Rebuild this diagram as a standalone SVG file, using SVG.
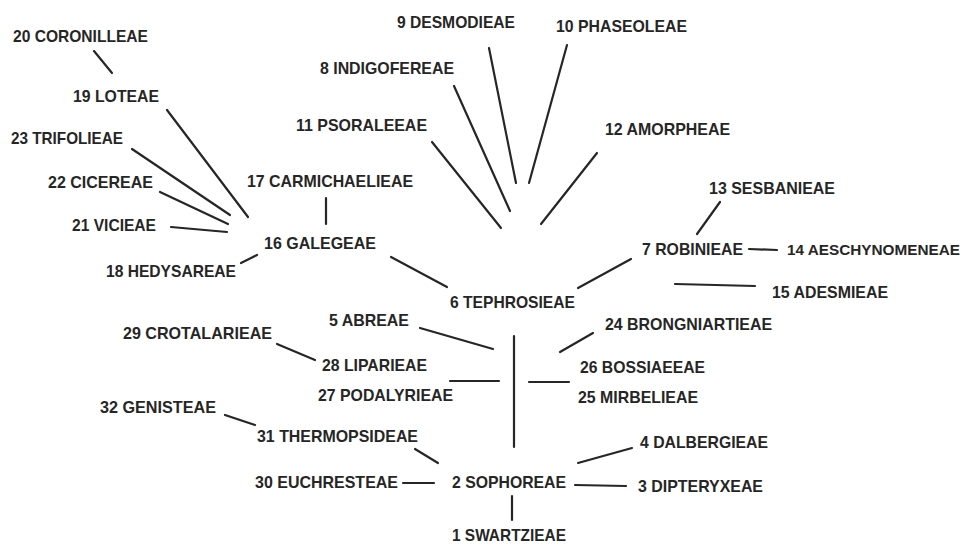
<svg xmlns="http://www.w3.org/2000/svg" width="967" height="544" viewBox="0 0 967 544">
<style>
text{font-family:"Liberation Sans",Arial,sans-serif;font-weight:bold;font-size:17px;fill:#262626;}
.c line{stroke:#262626;stroke-width:2.2;stroke-linecap:round;}
</style>
<rect width="967" height="544" fill="#fff"/>
<g class="c" id="connectors">
<line x1="94" y1="51" x2="112" y2="73"/>
<line x1="167" y1="110" x2="248" y2="217"/>
<line x1="132" y1="149" x2="230" y2="215"/>
<line x1="160" y1="192" x2="228" y2="224"/>
<line x1="171" y1="227" x2="227" y2="232"/>
<line x1="241" y1="263" x2="257" y2="255"/>
<line x1="326" y1="198" x2="326" y2="224"/>
<line x1="391" y1="257" x2="447" y2="287"/>
<line x1="578" y1="288" x2="631" y2="259"/>
<line x1="432" y1="142" x2="501" y2="228"/>
<line x1="454" y1="86" x2="510" y2="211"/>
<line x1="489" y1="48" x2="516" y2="183"/>
<line x1="567" y1="45" x2="529" y2="183"/>
<line x1="597" y1="153" x2="541" y2="224"/>
<line x1="720" y1="202" x2="697" y2="234"/>
<line x1="749" y1="249" x2="777" y2="250"/>
<line x1="675" y1="284" x2="755" y2="286"/>
<line x1="420" y1="328" x2="493" y2="349"/>
<line x1="277" y1="344" x2="315" y2="360"/>
<line x1="450" y1="381" x2="499" y2="381"/>
<line x1="225" y1="415" x2="255" y2="425"/>
<line x1="415" y1="449" x2="438" y2="463"/>
<line x1="403" y1="483" x2="434" y2="483"/>
<line x1="514" y1="336" x2="514" y2="447"/>
<line x1="593" y1="333" x2="560" y2="352"/>
<line x1="529" y1="382" x2="569" y2="382"/>
<line x1="578" y1="463" x2="632" y2="448"/>
<line x1="575" y1="485" x2="626" y2="486"/>
<line x1="512" y1="496" x2="512" y2="520"/>
</g>
<g id="n20"><text x="13" y="42" textLength="135" lengthAdjust="spacingAndGlyphs">20 CORONILLEAE</text></g>
<g id="n19"><text x="73" y="102" textLength="86" lengthAdjust="spacingAndGlyphs">19 LOTEAE</text></g>
<g id="n23"><text x="11" y="144" textLength="112" lengthAdjust="spacingAndGlyphs">23 TRIFOLIEAE</text></g>
<g id="n22"><text x="48" y="188" textLength="105" lengthAdjust="spacingAndGlyphs">22 CICEREAE</text></g>
<g id="n21"><text x="72" y="231" textLength="84" lengthAdjust="spacingAndGlyphs">21 VICIEAE</text></g>
<g id="n18"><text x="106" y="277" textLength="130" lengthAdjust="spacingAndGlyphs">18 HEDYSAREAE</text></g>
<g id="n17"><text x="247" y="187" textLength="166" lengthAdjust="spacingAndGlyphs">17 CARMICHAELIEAE</text></g>
<g id="n16"><text x="264" y="249" textLength="112" lengthAdjust="spacingAndGlyphs">16 GALEGEAE</text></g>
<g id="n6"><text x="450" y="308" textLength="125" lengthAdjust="spacingAndGlyphs">6 TEPHROSIEAE</text></g>
<g id="n11"><text x="296" y="131" textLength="131" lengthAdjust="spacingAndGlyphs">11 PSORALEEAE</text></g>
<g id="n8"><text x="320" y="74" textLength="134" lengthAdjust="spacingAndGlyphs">8 INDIGOFEREAE</text></g>
<g id="n9"><text x="397" y="28" textLength="118" lengthAdjust="spacingAndGlyphs">9 DESMODIEAE</text></g>
<g id="n10"><text x="556" y="32" textLength="131" lengthAdjust="spacingAndGlyphs">10 PHASEOLEAE</text></g>
<g id="n12"><text x="605" y="135" textLength="125" lengthAdjust="spacingAndGlyphs">12 AMORPHEAE</text></g>
<g id="n13"><text x="709" y="194" textLength="126" lengthAdjust="spacingAndGlyphs">13 SESBANIEAE</text></g>
<g id="n7"><text x="642" y="255" textLength="101" lengthAdjust="spacingAndGlyphs">7 ROBINIEAE</text></g>
<g id="n14"><text x="787" y="255" style="font-size:15.5px" textLength="173" lengthAdjust="spacingAndGlyphs">14 AESCHYNOMENEAE</text></g>
<g id="n15"><text x="772" y="298" textLength="116" lengthAdjust="spacingAndGlyphs">15 ADESMIEAE</text></g>
<g id="n24"><text x="605" y="330" textLength="167" lengthAdjust="spacingAndGlyphs">24 BRONGNIARTIEAE</text></g>
<g id="n5"><text x="329" y="326" textLength="80" lengthAdjust="spacingAndGlyphs">5 ABREAE</text></g>
<g id="n29"><text x="123" y="339" textLength="149" lengthAdjust="spacingAndGlyphs">29 CROTALARIEAE</text></g>
<g id="n28"><text x="322" y="371" textLength="105" lengthAdjust="spacingAndGlyphs">28 LIPARIEAE</text></g>
<g id="n27"><text x="318" y="401" textLength="135" lengthAdjust="spacingAndGlyphs">27 PODALYRIEAE</text></g>
<g id="n32"><text x="100" y="413" textLength="116" lengthAdjust="spacingAndGlyphs">32 GENISTEAE</text></g>
<g id="n31"><text x="257" y="442" textLength="161" lengthAdjust="spacingAndGlyphs">31 THERMOPSIDEAE</text></g>
<g id="n30"><text x="255" y="488" textLength="143" lengthAdjust="spacingAndGlyphs">30 EUCHRESTEAE</text></g>
<g id="n2"><text x="452" y="488" textLength="114" lengthAdjust="spacingAndGlyphs">2 SOPHOREAE</text></g>
<g id="n1"><text x="452" y="541" textLength="114" lengthAdjust="spacingAndGlyphs">1 SWARTZIEAE</text></g>
<g id="n26"><text x="580" y="373" textLength="125" lengthAdjust="spacingAndGlyphs">26 BOSSIAEEAE</text></g>
<g id="n25"><text x="578" y="403" textLength="120" lengthAdjust="spacingAndGlyphs">25 MIRBELIEAE</text></g>
<g id="n4"><text x="640" y="448" textLength="128" lengthAdjust="spacingAndGlyphs">4 DALBERGIEAE</text></g>
<g id="n3"><text x="638" y="492" textLength="125" lengthAdjust="spacingAndGlyphs">3 DIPTERYXEAE</text></g>
</svg>
